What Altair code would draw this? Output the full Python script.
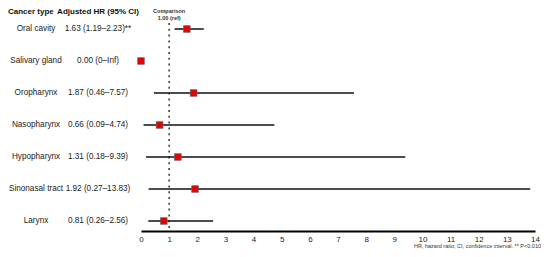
import altair as alt
import pandas as pd

cancer_types = ["Oral cavity", "Salivary gland", "Oropharynx", "Nasopharynx",
                "Hypopharynx", "Sinonasal tract", "Larynx"]
hr = [1.63, 0.00, 1.87, 0.66, 1.31, 1.92, 0.81]
ci_lo = [1.19, None, 0.46, 0.09, 0.18, 0.27, 0.26]
ci_hi = [2.23, None, 7.57, 4.74, 9.39, 13.83, 2.56]
hr_text = ["1.63 (1.19\u20132.23)**", "0.00 (0\u2013Inf)", "1.87 (0.46\u20137.57)",
           "0.66 (0.09\u20134.74)", "1.31 (0.18\u20139.39)", "1.92 (0.27\u201313.83)",
           "0.81 (0.26\u20132.56)"]
x_ticks = list(range(0, 15))
ref_value = 1.0
footnote = "HR, hazard ratio; CI, confidence interval. ** P<0.010"

df = pd.DataFrame({"type": cancer_types, "hr": hr, "lo": ci_lo, "hi": ci_hi,
                   "txt": hr_text, "row": list(range(len(cancer_types)))})

FONT = "Liberation Sans"
xs = alt.Scale(domain=[0, 14], range=[133, 527], nice=False, zero=False)
ys = alt.Scale(domain=[0, 6], range=[21, 213], nice=False, zero=False)
x_axis = alt.Axis(values=x_ticks, title=None, grid=False, ticks=False,
                  domainColor="#000", domainWidth=2, labelFont=FONT,
                  labelFontSize=8, labelColor="#222", labelPadding=4,
                  format="d", labelFlush=False, labelOverlap=False, tickCount=15)

base = alt.Chart(df)

axis_layer = base.mark_point(opacity=0).encode(
    x=alt.X("hr:Q", scale=xs, axis=x_axis),
    y=alt.Y("row:Q", scale=ys, axis=None),
)

ref_df = pd.DataFrame({"x": [ref_value]})
ref_line = alt.Chart(ref_df).mark_rule(strokeDash=[2, 3.8], strokeWidth=1.5, color="#333").encode(
    x=alt.X("x:Q", scale=xs, axis=x_axis), y=alt.value(15), y2=alt.value(223))
ref_t1 = alt.Chart(ref_df).mark_text(text="Comparison", font=FONT, fontSize=5.5,
                                     fontWeight="bold", color="#333").encode(
    x=alt.X("x:Q", scale=xs, axis=x_axis), y=alt.value(3))
ref_t2 = alt.Chart(ref_df).mark_text(text="1.00 (ref)", font=FONT, fontSize=5.5,
                                     fontWeight="bold", color="#333").encode(
    x=alt.X("x:Q", scale=xs, axis=x_axis), y=alt.value(10))

ci = base.transform_filter("isValid(datum.lo)").mark_rule(color="#111", strokeWidth=1.5).encode(
    x=alt.X("lo:Q", scale=xs, axis=x_axis), x2="hi:Q", y=alt.Y("row:Q", scale=ys, axis=None))

pts = base.mark_square(size=45, color="#e60000", stroke="#666", strokeWidth=0.7, opacity=1).encode(
    x=alt.X("hr:Q", scale=xs, axis=x_axis), y=alt.Y("row:Q", scale=ys, axis=None))

lab = base.mark_text(font=FONT, fontSize=8.2, color="#222").encode(
    x=alt.value(28), y=alt.Y("row:Q", scale=ys, axis=None), text="type:N")
hrt = base.mark_text(font=FONT, fontSize=8.2, color="#222").encode(
    x=alt.value(90), y=alt.Y("row:Q", scale=ys, axis=None), text="txt:N")

h1 = alt.Chart(ref_df).mark_text(text="Cancer type", font=FONT, fontSize=8, fontWeight="bold",
                                  color="#111", align="left").encode(x=alt.value(0), y=alt.value(4))
h2 = alt.Chart(ref_df).mark_text(text="Adjusted HR (95% CI)", font=FONT, fontSize=8,
                                  fontWeight="bold", color="#111").encode(x=alt.value(90), y=alt.value(4))
fn = alt.Chart(ref_df).mark_text(text=footnote, font=FONT, fontSize=5.5, color="#333",
                                  align="right").encode(x=alt.value(533), y=alt.value(238))

chart = alt.layer(axis_layer, ref_line, ref_t1, ref_t2, ci, pts, lab, hrt, h1, h2, fn).properties(
    width=534, height=223,
    autosize=alt.AutoSizeParams(type="none"),
    padding={"left": 0, "top": 0, "right": 0, "bottom": 18},
).configure_view(strokeWidth=0)

chart.save("out.html", embed_options={"renderer": "svg", "actions": False})
